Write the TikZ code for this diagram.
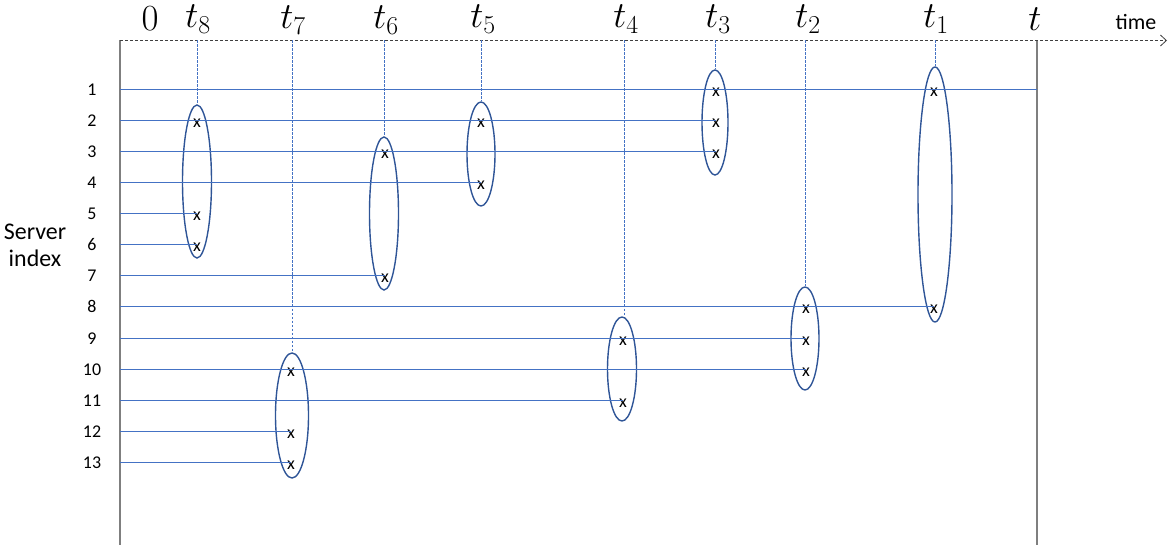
\RequirePackage{fix-cm}
\documentclass[tikz,border=0pt]{standalone}
\usepackage[no-math]{fontspec}
\setmainfont{Carlito}
\usetikzlibrary{arrows.meta,shapes.geometric}
\definecolor{lineblue}{HTML}{4472C4}
\definecolor{ringblue}{HTML}{2F5597}
\definecolor{axisgray}{HTML}{7F7F7F}
\tikzset{
  srvline/.style={lineblue, line width=1.5bp},
  ring/.style={draw=ringblue, line width=1.4bp, ellipse, inner sep=0pt},
  guide/.style={lineblue, line width=1.2bp, dash pattern=on 2.5bp off 1.5bp},
  hit/.style={inner sep=0pt, font=\fontsize{18}{18}\selectfont},
  rowlbl/.style={inner sep=0pt, font=\fontsize{18}{18}\selectfont},
  tlbl/.style={inner sep=0pt, font=\fontsize{37}{37}\selectfont},
}
\begin{document}
\begin{tikzpicture}[x=1bp, y=-1bp]
    \useasboundingbox (0,0) rectangle (1173,550);

    % axes
    \coordinate (top0) at (120,40.5);
    \coordinate (topend) at (1167,40.5);
    \coordinate (bot0) at (120,545);
    \coordinate (tt) at (1037,40.5);
    \coordinate (ttb) at (1037,545);
    \draw[axisgray, line width=1.6bp] (top0) -- (bot0);
    \draw[axisgray, line width=1.6bp] (tt) -- (ttb);
    \draw[black!75, line width=0.9bp, dash pattern=on 3bp off 2bp,
          -{Straight Barb[length=6bp, width=11bp, line width=0.8bp]}] (top0) -- (topend);
    \node[font=\fontsize{22}{22}\selectfont] (timelbl) at (1136,22) {time};

    % time labels
    \node[tlbl] (l0) at (150,19) {$0$};
    \node[tlbl] (l8) at (198,19) {$t_8$};
    \node[tlbl] (l7) at (293,20) {$t_7$};
    \node[tlbl] (l6) at (386,20) {$t_6$};
    \node[tlbl] (l5) at (483,19) {$t_5$};
    \node[tlbl] (l4) at (626,19) {$t_4$};
    \node[tlbl] (l3) at (718,19) {$t_3$};
    \node[tlbl] (l2) at (808,19) {$t_2$};
    \node[tlbl] (l1) at (936,19) {$t_1$};
    \node[tlbl] (lt) at (1035,19) {$t$};

    % server index
    \node[align=center, font=\fontsize{24}{27}\selectfont] (srv) at (35,245) {Server\\index};
    \foreach \i/\yy in {1/89.5,2/120.5,3/151.5,4/182.5,5/213.5,6/244.5,7/275.5,
                        8/306.5,9/338.5,10/369.5,11/400.5,12/431.5,13/462.5} {
        \node[rowlbl] (n\i) at (92,\yy) {\i};
        \coordinate (s\i) at (120,\yy);
    }

    % groups
    \node[ring, minimum width=29bp, minimum height=153bp] (c8) at (197,181.5) {};
    \node[ring, minimum width=33bp, minimum height=125bp] (c7) at (292,415.5) {};
    \node[ring, minimum width=29bp, minimum height=153bp] (c6) at (384,213.5) {};
    \node[ring, minimum width=28bp, minimum height=104bp] (c5) at (481,154) {};
    \node[ring, minimum width=29bp, minimum height=104bp] (c4) at (622,369) {};
    \node[ring, minimum width=26bp, minimum height=105bp] (c3) at (715,122.5) {};
    \node[ring, minimum width=28bp, minimum height=103bp] (c2) at (805,338.5) {};
    \node[ring, minimum width=34bp, minimum height=255bp] (c1) at (935,194.5) {};

    % dotted guides
    \foreach \k/\xx in {8/197.5,7/292.5,6/384.5,5/481.5,4/624.5,3/715.5,2/805.5,1/935.5} {
        \coordinate (g\k) at (\xx,40.5);
        \draw[guide] (g\k) -- (g\k |- c\k.north);
    }

    % hits
    \foreach \k/\xx/\rows in {8/197/{2,5,6}, 7/291/{10,12,13}, 6/385/{3,7},
                              5/481/{2,4}, 4/623/{9,11}, 3/716/{1,2,3},
                              2/806/{8,9,10}, 1/934/{1,8}} {
        \foreach \r in \rows {
            \node[hit] (h\k-\r) at (\xx,{92+31.1*(\r-1)}) {x};
        }
    }

    % server lines
    \draw[srvline] (s1) -- (s1 -| tt);
    \draw[srvline] (s2) -- (s2 -| h3-2);
    \draw[srvline] (s3) -- (s3 -| h3-3);
    \draw[srvline] (s4) -- (s4 -| h5-4);
    \draw[srvline] (s5) -- (s5 -| h8-5);
    \draw[srvline] (s6) -- (s6 -| h8-6);
    \draw[srvline] (s7) -- (s7 -| h6-7);
    \draw[srvline] (s8) -- (s8 -| h1-8);
    \draw[srvline] (s9) -- (s9 -| h2-9);
    \draw[srvline] (s10) -- (s10 -| h2-10);
    \draw[srvline] (s11) -- (s11 -| h4-11);
    \draw[srvline] (s12) -- (s12 -| h7-12);
    \draw[srvline] (s13) -- (s13 -| h7-13);
\end{tikzpicture}
\end{document}
